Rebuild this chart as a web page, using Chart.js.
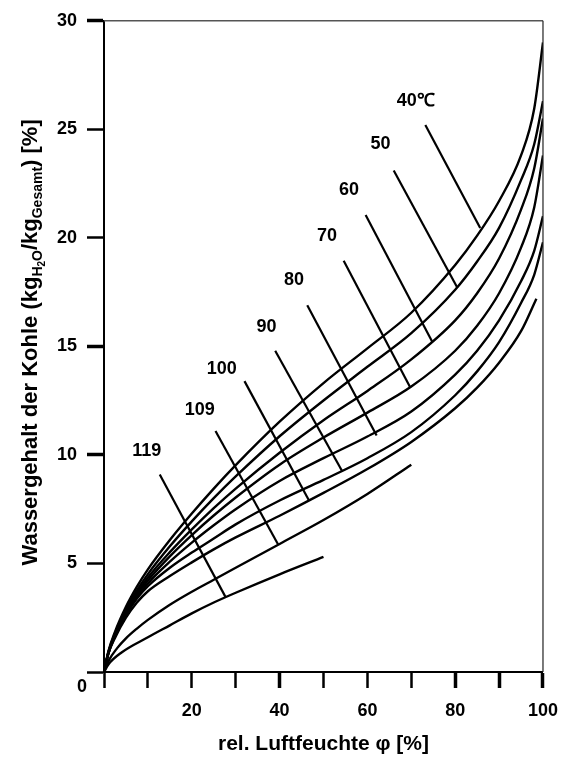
<!DOCTYPE html>
<html>
<head>
<meta charset="utf-8">
<script src="https://cdn.jsdelivr.net/npm/chart.js@4.4.1/dist/chart.umd.min.js"></script>
<style>
  html, body { margin: 0; padding: 0; background: #fff; }
  #wrap { width: 570px; height: 761px; }
</style>
</head>
<body>
<div id="wrap"><canvas id="sorption" width="570" height="761"></canvas></div>
<script>
// Sorption isotherms of coal: water content vs. relative humidity, per temperature
const temps = ['40', '50', '60', '70', '80', '90', '100', '109', '119'];

const phiMain = [0, 1, 2.5, 5, 7.5, 10, 15, 20, 25, 30, 40, 50, 60, 70, 80, 85, 90, 95, 98, 100];
const w40 = [0, 0.95, 1.85, 3.0, 3.93, 4.73, 6.08, 7.3, 8.45, 9.53, 11.53, 13.31, 14.91, 16.55, 18.75, 20.1, 21.7, 23.8, 25.95, 29.0];
const w50 = [0, 0.92, 1.78, 2.88, 3.76, 4.51, 5.79, 6.94, 8.01, 9.01, 10.86, 12.51, 14.06, 15.61, 17.61, 18.91, 20.46, 22.66, 24.31, 26.3];
const w60 = [0, 0.9, 1.73, 2.78, 3.63, 4.35, 5.52, 6.57, 7.55, 8.45, 10.1, 11.6, 12.95, 14.4, 16.2, 17.45, 19.05, 21.3, 23.2, 25.5];
const w70 = [0, 0.88, 1.7, 2.72, 3.55, 4.22, 5.33, 6.31, 7.21, 8.04, 9.55, 10.8, 11.95, 13.15, 14.8, 15.95, 17.45, 19.55, 21.4, 23.8];
const w80 = [0, 0.87, 1.66, 2.66, 3.45, 4.08, 5.08, 5.96, 6.76, 7.5, 8.8, 9.85, 10.85, 12.0, 13.7, 14.8, 16.2, 18.0, 19.4, 21.0];
const w90 = [0, 0.86, 1.62, 2.62, 3.38, 3.95, 4.8, 5.5, 6.15, 6.8, 7.9, 8.85, 9.85, 11.05, 12.75, 13.85, 15.2, 17.0, 18.3, 19.8];

const phi100 = [0, 1, 2.5, 5, 7.5, 10, 15, 20, 25, 30, 40, 50, 60, 70, 80, 85, 90, 95, 98.5];
const w100 = [0, 0.85, 1.57, 2.5, 3.2, 3.72, 4.42, 5.05, 5.65, 6.2, 7.2, 8.25, 9.35, 10.6, 12.15, 13.1, 14.25, 15.7, 17.2];

const phi109 = [0, 1, 3, 5, 7.5, 10, 15, 20, 25, 30, 40, 50, 60, 70];
const w109 = [0, 0.5, 1.1, 1.55, 2.0, 2.4, 3.1, 3.7, 4.25, 4.8, 5.9, 7.0, 8.2, 9.55];

const phi119 = [0, 1, 4, 10, 15, 20, 25, 30, 40, 50];
const w119 = [0, 0.35, 0.9, 1.6, 2.15, 2.7, 3.2, 3.65, 4.5, 5.3];

// leader lines from label to curve (data units)
const leadFromPhi = [73.2, 66.0, 59.6, 54.6, 46.3, 39.0, 32.0, 25.4, 12.7];
const leadFromW   = [25.2, 23.1, 21.05, 18.95, 16.9, 14.8, 13.4, 11.1, 9.1];
const leadToPhi   = [85.7, 80.5, 74.8, 69.8, 62.1, 54.2, 46.7, 39.7, 27.7];
const leadToW     = [20.45, 17.7, 15.2, 13.1, 10.9, 9.27, 7.9, 5.86, 3.45];

// label anchors (data units)
const labelText = ['40\u2103', '50', '60', '70', '80', '90', '100', '109', '119'];
const labelPhi  = [71.0, 63.0, 55.8, 50.8, 43.3, 37.0, 26.8, 21.8, 9.75];
const labelW    = [26.3, 24.3, 22.2, 20.1, 18.05, 15.9, 13.95, 12.05, 10.2];

const xTicks = [0, 10, 20, 30, 40, 50, 60, 70, 80, 90, 100];
const yTicks = [0, 5, 10, 15, 20, 25, 30];

const FONT = '"Liberation Sans", Arial, sans-serif';

function pts(xs, ys) {
    return xs.map((x, i) => ({ x: x, y: ys[i] }));
}

const curves = [
    [phiMain, w40], [phiMain, w50], [phiMain, w60], [phiMain, w70],
    [phiMain, w80], [phiMain, w90], [phi100, w100], [phi109, w109], [phi119, w119]
];

const datasets = curves.map((c, i) => ({
    label: temps[i],
    data: pts(c[0], c[1]),
    showLine: true,
    borderColor: '#000',
    borderWidth: 2.4,
    pointRadius: 0,
    fill: false,
    cubicInterpolationMode: 'monotone'
}));

leadFromPhi.forEach((p, i) => {
    datasets.push({
        label: 'leader ' + temps[i],
        data: [{ x: p, y: leadFromW[i] }, { x: leadToPhi[i], y: leadToW[i] }],
        showLine: true,
        borderColor: '#000',
        borderWidth: 2.2,
        pointRadius: 0,
        tension: 0
    });
});

// frame on top / right and the lone "0" at the corner
const framePlugin = {
    id: 'frame',
    afterDraw(chart) {
        const { ctx, chartArea: a } = chart;
        ctx.save();
        ctx.strokeStyle = '#555';
        ctx.lineWidth = 1.5;
        ctx.beginPath();
        ctx.moveTo(a.left, a.top);
        ctx.lineTo(a.right, a.top);
        ctx.stroke();
        ctx.strokeStyle = '#222';
        ctx.lineWidth = 1.2;
        ctx.beginPath();
        ctx.moveTo(a.right, a.top);
        ctx.lineTo(a.right, a.bottom);
        ctx.stroke();

        ctx.fillStyle = '#000';
        ctx.font = 'bold 18px ' + FONT;
        ctx.textAlign = 'center';
        ctx.textBaseline = 'middle';
        ctx.fillText('0', a.left - 22, a.bottom + 15);
        ctx.restore();
    }
};

// temperature labels at the leader lines
const labelPlugin = {
    id: 'tempLabels',
    afterDatasetsDraw(chart) {
        const { ctx, scales: { x, y } } = chart;
        ctx.save();
        ctx.fillStyle = '#000';
        ctx.font = 'bold 18px ' + FONT;
        ctx.textAlign = 'center';
        ctx.textBaseline = 'middle';
        labelText.forEach((t, i) => {
            ctx.fillText(t, x.getPixelForValue(labelPhi[i]), y.getPixelForValue(labelW[i]));
        });
        ctx.restore();
    }
};

// rotated y title with subscripts
const yTitleParts = [
    ['Wassergehalt der Kohle (kg', 0],
    ['H', 1], ['2', 2], ['O', 1],
    ['/kg', 0], ['Gesamt', 1], [') [%]', 0]
];
const yTitlePlugin = {
    id: 'yTitle',
    afterDraw(chart) {
        const { ctx, chartArea: a } = chart;
        const sizes = [22, 14, 10];
        const shifts = [0, 5, 8];
        ctx.save();
        ctx.fillStyle = '#000';
        ctx.textBaseline = 'alphabetic';
        ctx.textAlign = 'left';
        let total = 0;
        yTitleParts.forEach(([t, lvl]) => {
            ctx.font = 'bold ' + sizes[lvl] + 'px ' + FONT;
            total += ctx.measureText(t).width;
        });
        const cy = (a.top + a.bottom) / 2 - 4;
        ctx.translate(37, cy);
        ctx.rotate(-Math.PI / 2);
        let pos = -total / 2;
        yTitleParts.forEach(([t, lvl]) => {
            ctx.font = 'bold ' + sizes[lvl] + 'px ' + FONT;
            ctx.fillText(t, pos, shifts[lvl]);
            pos += ctx.measureText(t).width;
        });
        ctx.restore();
    }
};

const thickX = [40, 80, 90, 100];
const thickY = [30, 15, 10];

new Chart(document.getElementById('sorption'), {
    type: 'scatter',
    data: { datasets: datasets },
    options: {
        responsive: false,
        animation: false,
        layout: { padding: { top: 14, right: 25, left: 0, bottom: 0 } },
        plugins: {
            legend: { display: false },
            tooltip: { enabled: false }
        },
        scales: {
            x: {
                type: 'linear',
                min: 0,
                max: 100,
                afterFit: (s) => { s.height = 89; },
                afterBuildTicks: (s) => { s.ticks = xTicks.map(v => ({ value: v })); },
                ticks: {
                    autoSkip: false,
                    maxRotation: 0,
                    padding: 12,
                    color: '#000',
                    font: { family: FONT, size: 18, weight: 'bold' },
                    callback: (v) => (v > 0 && v % 20 === 0) ? v : ''
                },
                grid: {
                    drawOnChartArea: false,
                    drawTicks: true,
                    tickLength: 16,
                    tickColor: '#000',
                    tickWidth: (c) => thickX.includes(c.tick && c.tick.value) ? 3.5 : 2.5
                },
                border: { display: true, color: '#000', width: 2 },
                title: {
                    display: true,
                    text: 'rel. Luftfeuchte \u03c6 [%]',
                    color: '#000',
                    font: { family: FONT, size: 21, weight: 'bold' },
                    padding: { top: 0, bottom: 4 }
                }
            },
            y: {
                type: 'linear',
                min: 0,
                max: 30,
                afterFit: (s) => { s.width = 104; },
                afterBuildTicks: (s) => { s.ticks = yTicks.map(v => ({ value: v })); },
                ticks: {
                    padding: 10,
                    color: '#000',
                    font: { family: FONT, size: 18, weight: 'bold' },
                    callback: (v) => v === 0 ? '' : v
                },
                grid: {
                    drawOnChartArea: false,
                    drawTicks: true,
                    tickLength: 17,
                    tickColor: '#000',
                    tickWidth: (c) => thickY.includes(c.tick && c.tick.value) ? 3.5 : 2.5
                },
                border: { display: true, color: '#000', width: 2 }
            }
        }
    },
    plugins: [framePlugin, labelPlugin, yTitlePlugin]
});
</script>
</body>
</html>
